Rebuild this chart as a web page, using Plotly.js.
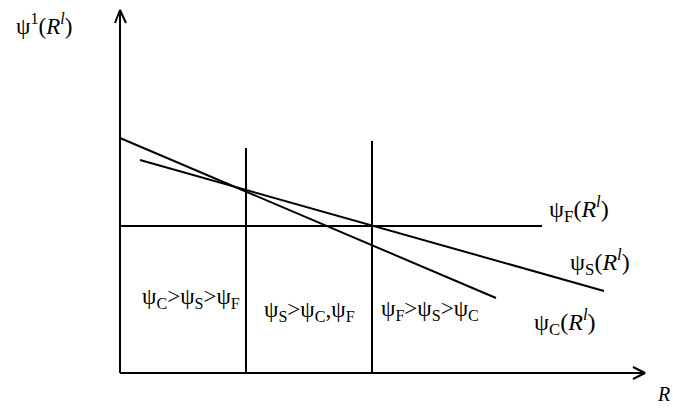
<!DOCTYPE html>
<html><head><meta charset="utf-8">
<script src="https://cdn.plot.ly/plotly-3.0.1.min.js"></script>
<style>html,body{margin:0;padding:0;background:#fff}#chart{width:673px;height:408px}</style>
</head><body><div id="chart"></div>
<script>
// Schematic values (abstract units, origin at axis corner)
const axisX = [0, 525];          // R axis extent
const axisY = [0, 363];          // psi axis extent
const psiC_x = [0, 376], psiC_y = [235, 75];
const psiS_x = [20, 484], psiS_y = [213, 82];
const psiF_x = [0, 422], psiF_y = [147, 147];
const cut1_x = [126, 126], cut1_y = [0, 225];
const cut2_x = [252, 252], cut2_y = [0, 232];
const regionLabels = [
  'ψ<sub>C</sub>>ψ<sub>S</sub>>ψ<sub>F</sub>',
  'ψ<sub>S</sub>>ψ<sub>C</sub>,ψ<sub>F</sub>',
  'ψ<sub>F</sub>>ψ<sub>S</sub>>ψ<sub>C</sub>'
];
const regionX = [71, 189, 310];
const regionY = [75, 62, 63];
const curveLabels = ['ψ<sub>F</sub>(<i>R</i><sup><i>l</i></sup>)', 'ψ<sub>S</sub>(<i>R</i><sup><i>l</i></sup>)', 'ψ<sub>C</sub>(<i>R</i><sup><i>l</i></sup>)'];
const curveLabelX = [459, 480, 445];
const curveLabelY = [164, 111, 51];
const yTitle = 'ψ<sup>1</sup>(<i>R</i><sup><i>l</i></sup>)';
const xTitle = '<i>R</i>';

const blk = {color:'#000', width:2};
const ln = (x,y) => ({type:'scatter', mode:'lines', x, y, line:blk, hoverinfo:'skip'});
const traces = [
  ln([axisX[0], axisX[0]], axisY),
  ln(axisX, [axisY[0], axisY[0]]),
  ln([axisX[0]-5, axisX[0], axisX[0]+6], [axisY[1]-13, axisY[1], axisY[1]-13]),
  ln([axisX[1]-12, axisX[1], axisX[1]-12], [axisY[0]+6, axisY[0], axisY[0]-6]),
  ln(psiC_x, psiC_y), ln(psiS_x, psiS_y), ln(psiF_x, psiF_y),
  ln(cut1_x, cut1_y), ln(cut2_x, cut2_y)
];
const font = {family:'Liberation Serif, Times New Roman, serif', color:'#000'};
const ann = [];
regionLabels.forEach((t,i)=>ann.push({x:regionX[i], y:regionY[i], text:t, showarrow:false, font:{...font, size:23}}));
curveLabels.forEach((t,i)=>ann.push({x:curveLabelX[i], y:curveLabelY[i], text:t, showarrow:false, font:{...font, size:24}}));
ann.push({x:-76, y:349, text:yTitle, showarrow:false, font:{...font, size:23}});
ann.push({x:543, y:-21, text:xTitle, showarrow:false, font:{...font, size:20}});

Plotly.newPlot('chart', traces, {
  width:673, height:408, margin:{l:0,r:0,t:0,b:0},
  paper_bgcolor:'#fff', plot_bgcolor:'#fff', showlegend:false,
  xaxis:{range:[-120,553], visible:false, fixedrange:true},
  yaxis:{range:[-35,373], visible:false, fixedrange:true},
  annotations:ann
}, {displayModeBar:false, staticPlot:true});
</script></body></html>
